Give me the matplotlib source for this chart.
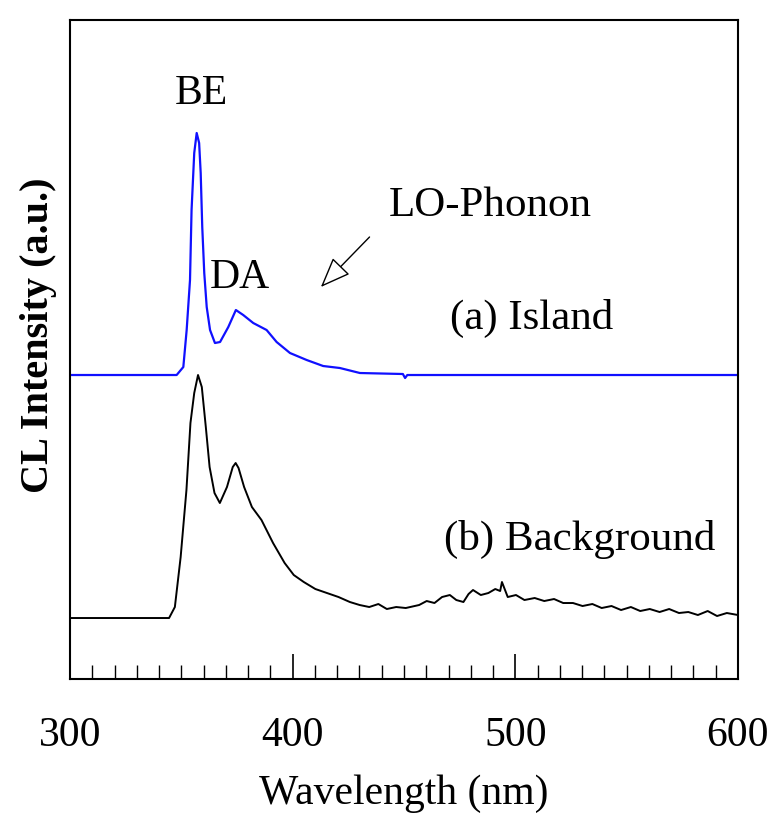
import numpy as np
import matplotlib.pyplot as plt
from matplotlib.ticker import MultipleLocator

plt.rcParams['font.family'] = ['Liberation Serif', 'DejaVu Serif']

# (a) Island spectrum (wavelength nm, intensity a.u.)
wl_island = [300, 340, 347.9, 350.9, 352.4, 353.9, 354.6, 355.8, 356.9, 358.0,
             358.7, 359.4, 360.3, 361.4, 362.9, 365.1, 367.4, 371.1, 374.5,
             377.8, 382.3, 388.3, 392.8, 398.8, 406.3, 413.7, 421.2, 430.2,
             449.5, 450.5, 451.5, 600]
int_island = [308, 308, 308, 316, 353, 403, 473, 530, 550, 540, 510, 456, 410,
              376, 353, 340, 341, 356, 373, 368, 360, 353, 341, 330, 323, 317,
              315, 310, 309, 305, 308, 308]

# (b) Background spectrum
wl_back = [300, 344.5, 347.1, 349.7, 352.3, 354.1, 355.8, 357.5, 359.2, 361.0,
           362.7, 364.9, 367.3, 370.5, 373.1, 374.4, 375.7, 378.2, 381.7, 386,
           391.2, 396.4, 400.5, 405, 410.2, 415.4, 420.6, 425.7, 430.1, 434.4,
           438.5, 442.3, 446.5, 450.8, 456.8, 460.2, 463.7, 467.1, 470.6, 473.5,
           476.7, 479.0, 481, 484.5, 487.9, 491.0, 493.2, 494, 496.6, 500.3,
           504.1, 508.7, 513.0, 517.4, 521.5, 525.9, 530.2, 534.6, 538.8, 543.2,
           547.5, 551.9, 556.1, 560.4, 564.8, 569.1, 573.5, 577.7, 582.0, 586.4,
           590.6, 595.0, 600]
int_back = [65, 65, 76, 126, 193, 260, 290, 308, 296, 256, 216, 190, 180, 196,
            216, 220, 215, 196, 176, 163, 140, 120, 108, 101, 94, 90, 86, 81,
            78, 76, 79, 74, 76, 75, 78, 82, 80, 86, 88, 83, 81, 89, 93, 88, 90,
            94, 92, 101, 86, 88, 83, 85, 82, 84, 80, 80, 77, 79, 75, 77, 73, 76,
            72, 74, 71, 74, 70, 71, 68, 72, 67, 70, 68]

fig = plt.figure(figsize=(7.7, 8.13), dpi=100)
ax = fig.add_axes([0.0909, 0.1648, 0.8675, 0.8106])

ax.plot(wl_island, int_island, color='#1010ff', lw=1.6)
ax.plot(wl_back, int_back, color='black', lw=1.4)

ax.set_xlim(300, 600)
ax.set_ylim(4, 663)

ax.xaxis.set_major_locator(MultipleLocator(100))
ax.xaxis.set_minor_locator(MultipleLocator(10))
ax.tick_params(axis='x', which='major', direction='in', length=18, width=1.2,
               labelsize=30, pad=27)
ax.tick_params(axis='x', which='minor', direction='in', length=10, width=1.0)
ax.set_yticks([])
for s in ax.spines.values():
    s.set_linewidth(1.5)

ax.set_xlabel('Wavelength (nm)', fontsize=30, labelpad=14)
ax.set_ylabel('CL Intensity (a.u.)', fontsize=29, fontweight='bold')
ax.yaxis.set_label_coords(-0.019, 0.522)

# Peak labels
ax.text(358.8, 589, 'BE', fontsize=30, ha='center', va='center')
ax.text(376.3, 405, 'DA', fontsize=30, ha='center', va='center')
ax.text(488.6, 477, 'LO-Phonon', fontsize=31, ha='center', va='center')
ax.text(507.5, 365, '(a) Island', fontsize=31, ha='center', va='center')
ax.text(529, 144, '(b) Background', fontsize=31, ha='center', va='center')

ax.annotate('', xy=(411.8, 394), xytext=(435.4, 448),
            arrowprops=dict(arrowstyle='-|>,head_length=1.9,head_width=0.75',
                            mutation_scale=10, fc='white', ec='black', lw=1.0))

fig.savefig('out.png', dpi=100)
